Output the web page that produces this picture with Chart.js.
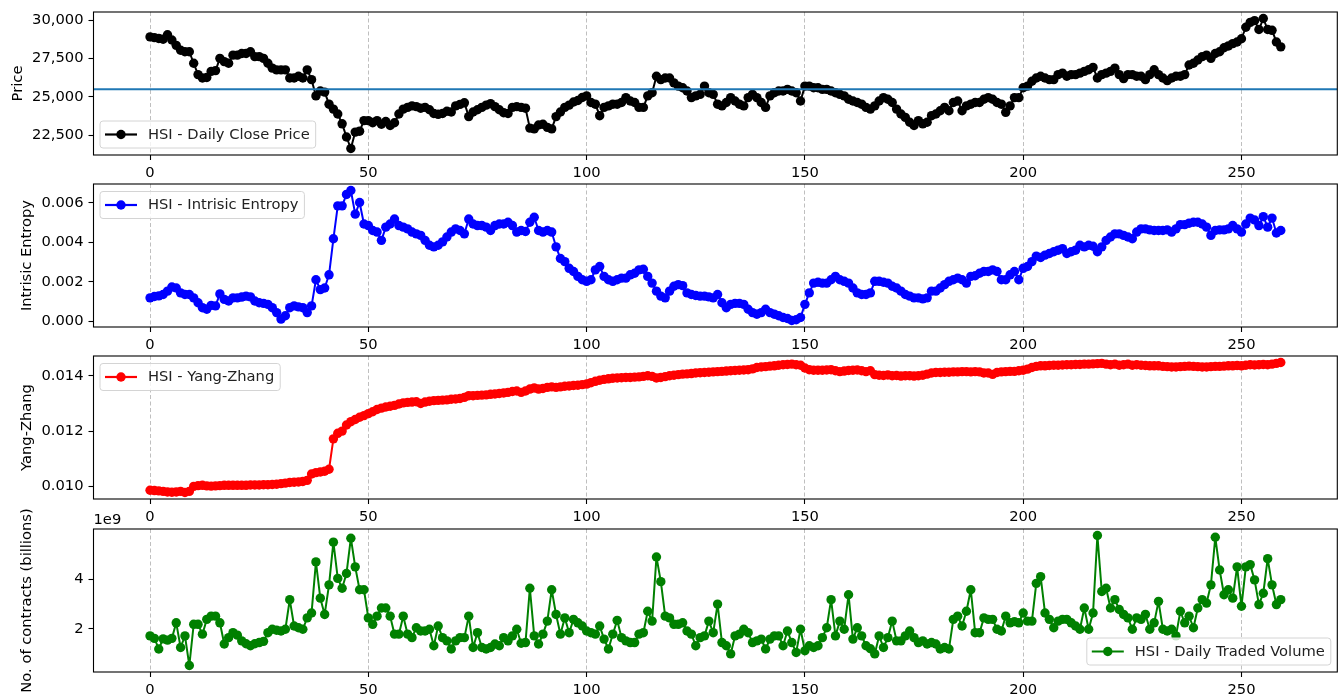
<!DOCTYPE html>
<html>
<head>
<meta charset="utf-8">
<title>HSI indicators</title>
<script src="https://cdn.jsdelivr.net/npm/chart.js@4.4.0/dist/chart.umd.min.js"></script>
<style>
  html, body { margin: 0; padding: 0; background: #fff; }
  #fig { position: relative; width: 1342px; height: 697px; overflow: hidden; }
  #fig canvas { position: absolute; left: 0; }
</style>
</head>
<body>
<div id="fig">
  <canvas id="priceChart" width="1342" height="189" style="top:-8px"></canvas>
  <canvas id="entropyChart" width="1342" height="189" style="top:164px"></canvas>
  <canvas id="yzChart" width="1342" height="189" style="top:336px"></canvas>
  <canvas id="volumeChart" width="1342" height="189" style="top:509px"></canvas>
</div>
<script>
// HSI daily close
const price = [
  28900, 28850, 28800, 28750, 29040, 28700, 28350, 28030, 27930, 27930,
  27180, 26440, 26220, 26250, 26650, 26700, 27500, 27290, 27180, 27710,
  27710, 27820, 27820, 27930, 27610, 27610, 27500, 27180, 26860, 26750,
  26750, 26750, 26220, 26220, 26330, 26220, 26750, 26110, 25050, 25370,
  25300, 24510, 24190, 23870, 23230, 22370, 21620, 22690, 22750, 23440,
  23440, 23300, 23440, 23200, 23380, 23120, 23300, 23870, 24190, 24300,
  24400, 24350, 24250, 24300, 24150, 23900, 23850, 23900, 24050, 24000,
  24400, 24500, 24600, 23700, 24000, 24150, 24300, 24450, 24550, 24350,
  24150, 23950, 23900, 24300, 24350, 24300, 24250, 22950, 22900, 23150,
  23200, 23000, 22900, 23700, 24000, 24300, 24450, 24650, 24750, 24950,
  25050, 24620, 24510, 23760, 24300, 24400, 24510, 24510, 24620, 24940,
  24720, 24620, 24300, 24300, 25050, 25260, 26330, 26110, 26220, 26220,
  25900, 25690, 25580, 25370, 24940, 25050, 25150, 25690, 25260, 25150,
  24510, 24400, 24620, 24940, 24720, 24510, 24400, 24940, 25150, 24940,
  24620, 24300, 25050, 25260, 25370, 25370, 25480, 25370, 25260, 24720,
  25690, 25690, 25580, 25580, 25480, 25480, 25370, 25260, 25150, 25050,
  24830, 24720, 24620, 24510, 24300, 24190, 24400, 24720, 24940, 24830,
  24620, 24190, 23870, 23650, 23330, 23120, 23440, 23230, 23330, 23760,
  23870, 24080, 24300, 24080, 24620, 24720, 24080, 24400, 24510, 24620,
  24620, 24830, 24940, 24830, 24620, 24510, 23980, 24400, 24940, 24940,
  25580, 25690, 26010, 26220, 26330, 26220, 26110, 26110, 26440, 26540,
  26330, 26440, 26440, 26540, 26650, 26760, 26910, 26220, 26440, 26540,
  26650, 26860, 26440, 26180, 26440, 26440, 26330, 26330, 26110, 26440,
  26760, 26440, 26220, 26050, 26220, 26330, 26330, 26440, 27070, 27180,
  27390, 27610, 27710, 27500, 27820, 27930, 28190, 28310, 28460, 28570,
  28780, 29530, 29850, 29960, 29380, 30100, 29380, 29330, 28570, 28250
];

const entropy = [
  0.00118, 0.00125, 0.00128, 0.00135, 0.00152, 0.00173, 0.00168, 0.00143, 0.00135, 0.00135,
  0.00118, 0.00093, 0.00068, 0.00060, 0.00080, 0.00077, 0.00138, 0.00110, 0.00102, 0.00118,
  0.00118, 0.00122, 0.00127, 0.00123, 0.00102, 0.00093, 0.00090, 0.00085, 0.00068, 0.00043,
  0.00010, 0.00027, 0.00068, 0.00077, 0.00072, 0.00068, 0.00043, 0.00077, 0.00210, 0.00160,
  0.00168, 0.00235, 0.00418, 0.00585, 0.00585, 0.00643, 0.00663, 0.00543, 0.00602, 0.00493,
  0.00485, 0.00460, 0.00452, 0.00410, 0.00477, 0.00493, 0.00518, 0.00485, 0.00477, 0.00468,
  0.00452, 0.00443, 0.00435, 0.00410, 0.00385, 0.00377, 0.00385, 0.00402, 0.00427, 0.00452,
  0.00468, 0.00460, 0.00443, 0.00518, 0.00493, 0.00485, 0.00485, 0.00477, 0.00460, 0.00485,
  0.00493, 0.00493, 0.00502, 0.00485, 0.00452, 0.00460, 0.00455, 0.00502, 0.00527, 0.00460,
  0.00452, 0.00460, 0.00452, 0.00377, 0.00318, 0.00302, 0.00268, 0.00252, 0.00227, 0.00210,
  0.00202, 0.00210, 0.00260, 0.00277, 0.00227, 0.00210, 0.00202, 0.00210, 0.00218, 0.00218,
  0.00235, 0.00243, 0.00260, 0.00263, 0.00227, 0.00193, 0.00152, 0.00127, 0.00118, 0.00152,
  0.00177, 0.00185, 0.00180, 0.00143, 0.00135, 0.00130, 0.00127, 0.00127, 0.00123, 0.00118,
  0.00135, 0.00093, 0.00068, 0.00085, 0.00090, 0.00090, 0.00085, 0.00060, 0.00043, 0.00035,
  0.00043, 0.00060, 0.00043, 0.00035, 0.00027, 0.00018, 0.00013, 0.00003, 0.00007, 0.00018,
  0.00085, 0.00143, 0.00193, 0.00197, 0.00193, 0.00193, 0.00210, 0.00227, 0.00210, 0.00202,
  0.00193, 0.00168, 0.00143, 0.00135, 0.00135, 0.00143, 0.00202, 0.00202, 0.00197, 0.00193,
  0.00177, 0.00168, 0.00152, 0.00135, 0.00127, 0.00118, 0.00118, 0.00113, 0.00118, 0.00152,
  0.00152, 0.00168, 0.00185, 0.00202, 0.00210, 0.00218, 0.00210, 0.00193, 0.00227, 0.00230,
  0.00243, 0.00252, 0.00252, 0.00260, 0.00252, 0.00210, 0.00210, 0.00235, 0.00252, 0.00210,
  0.00268, 0.00277, 0.00302, 0.00330, 0.00323, 0.00335, 0.00343, 0.00352, 0.00360, 0.00368,
  0.00343, 0.00352, 0.00360, 0.00385, 0.00377, 0.00385, 0.00380, 0.00352, 0.00377, 0.00410,
  0.00427, 0.00443, 0.00443, 0.00435, 0.00427, 0.00418, 0.00452, 0.00468, 0.00468, 0.00463,
  0.00460, 0.00460, 0.00460, 0.00463, 0.00452, 0.00468, 0.00490, 0.00490, 0.00497, 0.00502,
  0.00502, 0.00493, 0.00477, 0.00435, 0.00460, 0.00463, 0.00463, 0.00468, 0.00485, 0.00468,
  0.00452, 0.00493, 0.00523, 0.00513, 0.00485, 0.00530, 0.00477, 0.00523, 0.00447, 0.00460
];

const yangZhang = [
  0.00986, 0.00985, 0.00984, 0.00982, 0.00980, 0.00979, 0.00980, 0.00982, 0.00978, 0.00982,
  0.01000, 0.01003, 0.01004, 0.01002, 0.01001, 0.01002, 0.01003, 0.01004, 0.01004, 0.01004,
  0.01004, 0.01004, 0.01004, 0.01005, 0.01005, 0.01005, 0.01006, 0.01006, 0.01007, 0.01008,
  0.01010, 0.01012, 0.01014, 0.01015, 0.01016, 0.01018, 0.01022, 0.01045, 0.01050, 0.01052,
  0.01055, 0.01062, 0.01172, 0.01192, 0.01200, 0.01222, 0.01234, 0.01242, 0.01250, 0.01256,
  0.01263, 0.01270, 0.01278, 0.01283, 0.01287, 0.01290, 0.01293, 0.01298, 0.01302, 0.01304,
  0.01305, 0.01306, 0.01300, 0.01305, 0.01308, 0.01310, 0.01311, 0.01312, 0.01313, 0.01315,
  0.01316, 0.01318, 0.01322, 0.01328, 0.01328, 0.01329, 0.01330, 0.01331, 0.01333, 0.01334,
  0.01336, 0.01338, 0.01340, 0.01343, 0.01345, 0.01340, 0.01345, 0.01352, 0.01356, 0.01352,
  0.01354, 0.01358, 0.01360, 0.01358, 0.01360, 0.01362, 0.01363, 0.01365, 0.01366, 0.01368,
  0.01370, 0.01375, 0.01380, 0.01384, 0.01387, 0.01389, 0.01391, 0.01392, 0.01393, 0.01394,
  0.01394, 0.01395, 0.01396, 0.01398, 0.01400, 0.01398, 0.01392, 0.01394, 0.01397, 0.01400,
  0.01402, 0.01404, 0.01406, 0.01407, 0.01408, 0.01410, 0.01411, 0.01412, 0.01413, 0.01414,
  0.01415, 0.01416, 0.01417, 0.01418, 0.01419, 0.01420, 0.01421, 0.01422, 0.01425, 0.01430,
  0.01432, 0.01433, 0.01435, 0.01436, 0.01438, 0.01440, 0.01441, 0.01442, 0.01440, 0.01438,
  0.01428, 0.01422, 0.01420, 0.01420, 0.01420, 0.01421, 0.01422, 0.01418, 0.01415, 0.01417,
  0.01419, 0.01420, 0.01421, 0.01418, 0.01415, 0.01418, 0.01404, 0.01402, 0.01401, 0.01403,
  0.01400, 0.01401, 0.01399, 0.01400, 0.01400, 0.01399, 0.01400, 0.01402, 0.01406, 0.01410,
  0.01412, 0.01412, 0.01413, 0.01413, 0.01414, 0.01414, 0.01415, 0.01415, 0.01414, 0.01415,
  0.01414, 0.01410, 0.01410, 0.01405, 0.01412, 0.01414, 0.01415, 0.01416, 0.01416, 0.01418,
  0.01420, 0.01424, 0.01430, 0.01434, 0.01436, 0.01436, 0.01437, 0.01438, 0.01438, 0.01439,
  0.01440, 0.01440, 0.01441, 0.01441, 0.01442, 0.01442, 0.01443, 0.01444, 0.01445, 0.01442,
  0.01440, 0.01442, 0.01438, 0.01440, 0.01442, 0.01438, 0.01440, 0.01438, 0.01437, 0.01436,
  0.01436, 0.01436, 0.01434, 0.01433, 0.01432, 0.01432, 0.01433, 0.01434, 0.01435, 0.01434,
  0.01433, 0.01432, 0.01432, 0.01433, 0.01434, 0.01434, 0.01435, 0.01436, 0.01436, 0.01437,
  0.01436, 0.01438, 0.01440, 0.01439, 0.01440, 0.01441, 0.01440, 0.01442, 0.01445, 0.01448
];

// contracts traded, in units of 1e9
const volume = [
  1.72, 1.62, 1.19, 1.60, 1.55, 1.62, 2.25, 1.25, 1.72, 0.52,
  2.19, 2.19, 1.79, 2.39, 2.52, 2.52, 2.25, 1.39, 1.65, 1.85,
  1.75, 1.52, 1.40, 1.32, 1.40, 1.45, 1.50, 1.85, 1.99, 1.95,
  1.92, 1.99, 3.19, 2.12, 2.05, 1.99, 2.45, 2.65, 4.72, 3.25,
  2.59, 3.79, 5.52, 4.05, 3.65, 4.25, 5.68, 4.52, 3.59, 3.59,
  2.45, 2.19, 2.52, 2.85, 2.85, 2.52, 1.79, 1.79, 2.52, 1.79,
  1.65, 2.05, 1.92, 1.92, 1.99, 1.32, 2.12, 1.65, 1.52, 1.19,
  1.52, 1.65, 1.65, 2.52, 1.25, 1.85, 1.25, 1.19, 1.25, 1.39,
  1.32, 1.65, 1.52, 1.72, 1.99, 1.42, 1.45, 3.65, 1.72, 1.39,
  1.79, 2.32, 3.59, 2.59, 1.79, 2.45, 1.85, 2.39, 2.25, 2.12,
  1.92, 1.85, 1.79, 2.12, 1.59, 1.19, 1.79, 2.35, 1.65, 1.52,
  1.45, 1.45, 1.79, 1.85, 2.72, 2.32, 4.92, 3.92, 2.52, 2.45,
  2.19, 2.19, 2.25, 1.92, 1.79, 1.32, 1.65, 1.72, 2.32, 1.85,
  3.01, 1.45, 1.32, 0.99, 1.72, 1.79, 1.99, 1.85, 1.45, 1.52,
  1.59, 1.19, 1.59, 1.72, 1.72, 1.32, 1.92, 1.45, 1.05, 1.99,
  1.12, 1.32, 1.25, 1.32, 1.65, 2.05, 3.19, 1.72, 2.32, 1.99,
  3.39, 1.59, 2.05, 1.72, 1.32, 1.20, 0.99, 1.72, 1.25, 1.65,
  2.32, 1.52, 1.52, 1.72, 1.92, 1.65, 1.45, 1.52, 1.39, 1.45,
  1.39, 1.19, 1.25, 1.19, 2.39, 2.52, 2.12, 2.72, 3.59, 1.85,
  1.85, 2.45, 2.39, 2.39, 1.99, 1.92, 2.52, 2.25, 2.30, 2.25,
  2.65, 2.32, 2.32, 3.85, 4.12, 2.65, 2.39, 2.05, 2.32, 2.39,
  2.39, 2.25, 2.12, 1.99, 2.85, 1.99, 2.65, 5.79, 3.52, 3.65,
  2.85, 3.19, 2.79, 2.59, 2.45, 1.99, 2.45, 2.39, 2.59, 1.99,
  2.25, 3.12, 1.99, 1.92, 1.99, 1.72, 2.72, 2.25, 2.52, 2.05,
  2.85, 3.19, 3.05, 3.79, 5.72, 4.39, 3.39, 3.59, 3.25, 4.52,
  2.92, 4.52, 4.61, 3.99, 2.99, 3.45, 4.85, 3.79, 2.99, 3.19
];

const days = price.map((_, i) => i);

const xTicks = [0, 50, 100, 150, 200, 250];
const priceTicks = [22500, 25000, 27500, 30000];
const entropyTicks = [0, 0.002, 0.004, 0.006];
const yzTicks = [0.010, 0.012, 0.014];
const volumeTicks = [2, 4];

const FONT_SIZE = 14.7;
const FONT = `${FONT_SIZE}px "DejaVu Sans"`;

Chart.defaults.font.family = '"DejaVu Sans", sans-serif';
Chart.defaults.font.size = FONT_SIZE;
Chart.defaults.color = '#000';

// matplotlib style autoscale: 5% margin on both sides
const padRange = (lo, hi) => {
  const m = (hi - lo) * 0.05;
  return [lo - m, hi + m];
};

const [xMin, xMax] = padRange(days[0], days[days.length - 1]);
const meanPrice = price.reduce((a, b) => a + b, 0) / price.length;

// frame, y title, offset text and an in-axes legend box
const panelDecor = {
  id: 'panelDecor',
  afterDraw(chart, args, opts) {
    const { ctx, chartArea: a } = chart;
    ctx.save();

    ctx.strokeStyle = '#000';
    ctx.lineWidth = 1.1;
    ctx.strokeRect(a.left, a.top, a.width, a.height);

    ctx.font = FONT;
    ctx.fillStyle = '#000';

    ctx.save();
    ctx.translate(opts.titleX, (a.top + a.bottom) / 2);
    ctx.rotate(-Math.PI / 2);
    ctx.textAlign = 'center';
    ctx.textBaseline = 'middle';
    ctx.fillText(opts.title, 0, 0);
    ctx.restore();

    if (opts.offsetText) {
      ctx.textAlign = 'left';
      ctx.textBaseline = 'bottom';
      ctx.fillText(opts.offsetText, a.left, a.top - 1);
    }

    // legend
    const ds = chart.data.datasets[0];
    const tw = ctx.measureText(ds.label).width;
    const w = tw + 54, h = 27, r = 3;
    const x = opts.legend.endsWith('Right') ? a.right - 6.5 - w : a.left + 6.5;
    const y = opts.legend.startsWith('lower') ? a.bottom - 7 - h : a.top + 7.5;

    ctx.beginPath();
    ctx.moveTo(x + r, y);
    ctx.arcTo(x + w, y, x + w, y + h, r);
    ctx.arcTo(x + w, y + h, x, y + h, r);
    ctx.arcTo(x, y + h, x, y, r);
    ctx.arcTo(x, y, x + w, y, r);
    ctx.closePath();
    ctx.fillStyle = 'rgba(255,255,255,0.8)';
    ctx.fill();
    ctx.strokeStyle = '#d4d4d4';
    ctx.lineWidth = 1;
    ctx.stroke();

    const cy = y + h / 2;
    ctx.strokeStyle = ds.borderColor;
    ctx.lineWidth = 2.2;
    ctx.beginPath();
    ctx.moveTo(x + 5, cy);
    ctx.lineTo(x + 37, cy);
    ctx.stroke();
    ctx.fillStyle = ds.borderColor;
    ctx.beginPath();
    ctx.arc(x + 21, cy, 4.7, 0, Math.PI * 2);
    ctx.fill();

    ctx.fillStyle = '#222';
    ctx.textAlign = 'left';
    ctx.textBaseline = 'middle';
    ctx.fillText(ds.label, x + 48, cy + 0.5);

    ctx.restore();
  }
};

const makePanel = (canvasId, cfg) => {
  const [yMin, yMax] = padRange(Math.min(...cfg.values), Math.max(...cfg.values));

  const datasets = [{
    label: cfg.label,
    data: cfg.values.map((v, i) => ({ x: days[i], y: v })),
    borderColor: cfg.color,
    backgroundColor: cfg.color,
    borderWidth: 2,
    borderJoinStyle: 'round',
    pointRadius: 4.7,
    pointBorderWidth: 0,
    pointHoverRadius: 4.7,
    order: 1,
  }];

  if (cfg.hline !== undefined) {
    datasets.push({
      label: 'mean',
      data: [{ x: xMin, y: cfg.hline }, { x: xMax, y: cfg.hline }],
      borderColor: '#1f77b4',
      borderWidth: 2,
      pointRadius: 0,
      order: 0,
    });
  }

  return new Chart(document.getElementById(canvasId), {
    type: 'line',
    data: { datasets },
    options: {
      responsive: false,
      devicePixelRatio: 1,
      animation: false,
      events: [],
      layout: { padding: { top: 20, right: 4, left: 0, bottom: 0 } },
      plugins: {
        legend: { display: false },
        tooltip: { enabled: false },
        panelDecor: {
          title: cfg.title,
          titleX: cfg.titleX,
          legend: cfg.legend,
          offsetText: cfg.offsetText,
        },
      },
      scales: {
        x: {
          type: 'linear',
          min: xMin,
          max: xMax,
          afterBuildTicks: (s) => { s.ticks = xTicks.map((v) => ({ value: v })); },
          afterFit: (s) => { s.height = 26; },
          grid: { color: '#b8b8b8', lineWidth: 0.9, tickColor: '#000', tickLength: 5, tickWidth: 1.1 },
          border: { display: false, dash: [4, 2.5] },
          ticks: { padding: 4, maxRotation: 0, autoSkip: false, color: '#000' },
        },
        y: {
          min: yMin,
          max: yMax,
          afterBuildTicks: (s) => { s.ticks = cfg.ticks.map((v) => ({ value: v })); },
          afterFit: (s) => { s.width = 93.5; },
          grid: { drawOnChartArea: false, tickColor: '#000', tickLength: 5, tickWidth: 1.1 },
          border: { display: false },
          ticks: { padding: 5, color: '#000', callback: cfg.format },
        },
      },
    },
    plugins: [panelDecor],
  });
};

makePanel('priceChart', {
  values: price,
  label: 'HSI - Daily Close Price',
  color: '#000000',
  title: 'Price',
  titleX: 18,
  legend: 'lowerLeft',
  ticks: priceTicks,
  hline: meanPrice,
  format: (v) => v.toLocaleString('en-US'),
});

makePanel('entropyChart', {
  values: entropy,
  label: 'HSI - Intrisic Entropy',
  color: '#0000ff',
  title: 'Intrisic Entropy',
  titleX: 27,
  legend: 'upperLeft',
  ticks: entropyTicks,
  format: (v) => v.toFixed(3),
});

makePanel('yzChart', {
  values: yangZhang,
  label: 'HSI - Yang-Zhang',
  color: '#ff0000',
  title: 'Yang-Zhang',
  titleX: 27,
  legend: 'upperLeft',
  ticks: yzTicks,
  format: (v) => v.toFixed(3),
});

makePanel('volumeChart', {
  values: volume,
  label: 'HSI - Daily Traded Volume',
  color: '#008000',
  title: 'No. of contracts (billions)',
  titleX: 27,
  legend: 'lowerRight',
  offsetText: '1e9',
  ticks: volumeTicks,
  format: (v) => String(v),
});
</script>
</body>
</html>
